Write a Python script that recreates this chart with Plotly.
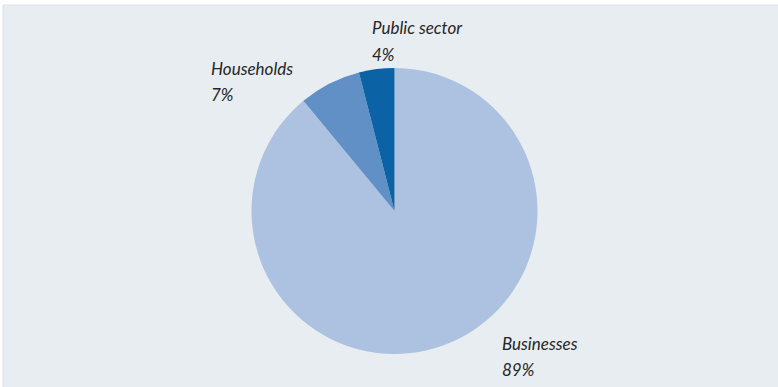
import plotly.graph_objects as go

# Sector shares (percent)
sectors = ["Businesses", "Households", "Public sector"]
shares = [89, 7, 4]
slice_colors = ["#adc2e1", "#6190c6", "#0b62a4"]

W, H = 778, 387

fig = go.Figure()

fig.add_trace(go.Pie(
    labels=sectors,
    values=shares,
    sort=False,
    direction="clockwise",
    rotation=0,
    textinfo="none",
    hoverinfo="label+percent",
    marker=dict(colors=slice_colors, line=dict(width=0)),
    showlegend=False,
    domain=dict(x=[251.5 / W, 537.5 / W], y=[33 / H, 319 / H]),
))

# Panel background
fig.add_shape(type="rect", xref="paper", yref="paper",
              x0=3 / W, x1=1.01, y0=-0.01, y1=1 - 5 / H,
              fillcolor="#e8edf1", line=dict(color="#dde2e7", width=1),
              layer="below")

label_font = dict(family="Lato, DejaVu Sans Condensed, sans-serif",
                  size=17, color="#262626", style="italic")

# Label anchor points: left x, vertical centre of the name line, in pixels
label_pos = {
    "Businesses": (500, 343),
    "Households": (209, 68),
    "Public sector": (370, 28),
}
line_gap = 26

for name, val in zip(sectors, shares):
    px, py = label_pos[name]
    for i, txt in enumerate([name, f"{val}%"]):
        fig.add_annotation(
            x=px / W, y=1 - (py + i * line_gap) / H, xref="paper", yref="paper",
            xanchor="left", yanchor="middle", align="left",
            text=txt, showarrow=False, font=label_font,
        )

fig.update_layout(
    width=W, height=H,
    margin=dict(l=0, r=0, t=0, b=0),
    paper_bgcolor="#ffffff",
    plot_bgcolor="#ffffff",
)

fig.write_html("out.html")
